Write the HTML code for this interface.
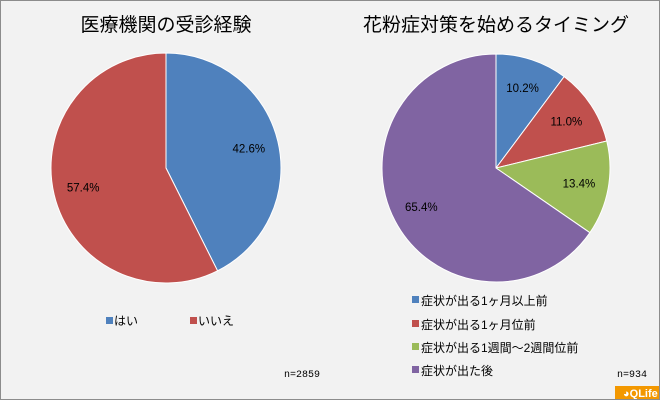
<!DOCTYPE html>
<html><head><meta charset="utf-8"><style>
body{margin:0;width:660px;height:400px;overflow:hidden;background:#fff}
#c{position:absolute;left:0;top:0;width:658px;height:398px;border:1px solid #8c8c8c;background:#f2f2f2;font-family:"Liberation Sans","Noto Sans CJK JP",sans-serif}
</style></head><body>
<div id="c">
<svg width="658" height="398" xmlns="http://www.w3.org/2000/svg" font-family="Liberation Sans, Noto Sans CJK JP, sans-serif">
<text x="165" y="30" font-size="19" text-anchor="middle" fill="#000">医療機関の受診経験</text>
<text x="495" y="30" font-size="19" text-anchor="middle" fill="#000">花粉症対策を始めるタイミング</text>
<g id="p1"></g><g id="p2"></g>
<g>
<rect x="105" y="316" width="7" height="7" fill="#4f81bd"/><text x="113" y="324" font-size="12">はい</text>
<rect x="189" y="316" width="7" height="7" fill="#c0504d"/><text x="197" y="324" font-size="12">いいえ</text>
</g>
<g>
<rect x="411" y="295" width="7" height="7" fill="#4f81bd"/><text x="420" y="304" font-size="12">症状が出る1ヶ月以上前</text>
<rect x="411" y="319" width="7" height="7" fill="#c0504d"/><text x="420" y="328" font-size="12">症状が出る1ヶ月位前</text>
<rect x="411" y="342" width="7" height="7" fill="#9bbb59"/><text x="420" y="351" font-size="12">症状が出る1週間〜2週間位前</text>
<rect x="411" y="365" width="7" height="7" fill="#8064a2"/><text x="420" y="374" font-size="12">症状が出た後</text>
</g>
<text x="283" y="376" font-size="10" font-family="Liberation Mono, monospace">n=2859</text>
<text x="616" y="376" font-size="10" font-family="Liberation Mono, monospace">n=934</text>
<g><rect x="614" y="385" width="44" height="13" fill="#f39800"/><text x="622" y="396" font-size="11" fill="#fff" font-weight="bold">◕QLife</text></g>
</svg></div>
<script>
const leftLabels=["はい","いいえ"];
const leftValues=[42.6,57.4];
const rightLabels=["症状が出る1ヶ月以上前","症状が出る1ヶ月位前","症状が出る1週間〜2週間位前","症状が出た後"];
const rightValues=[10.2,11.0,13.4,65.4];
const colors=["#4f81bd","#c0504d","#9bbb59","#8064a2"];
const NS="http://www.w3.org/2000/svg";
function pie(gid,vals,cx,cy,r,name){
  const g=document.getElementById(gid);
  const tot=vals.reduce((a,b)=>a+b,0);let a0=0;
  vals.forEach((v,i)=>{
    const a1=a0+v/tot*2*Math.PI;
    const x0=cx+r*Math.sin(a0),y0=cy-r*Math.cos(a0),x1=cx+r*Math.sin(a1),y1=cy-r*Math.cos(a1);
    const p=document.createElementNS(NS,"path");
    p.setAttribute("d",`M${cx},${cy}L${x0},${y0}A${r},${r} 0 ${a1-a0>Math.PI?1:0} 1 ${x1},${y1}Z`);
    p.setAttribute("fill",colors[i]);p.setAttribute("stroke","#fff");p.setAttribute("stroke-width","1");
    
    
    g.appendChild(p);
    const m=(a0+a1)/2,lr=r*0.74;
    const t=document.createElementNS(NS,"text");
    t.setAttribute("x",cx+lr*Math.sin(m));t.setAttribute("y",cy-lr*Math.cos(m)+4);
    t.setAttribute("text-anchor","middle");t.setAttribute("font-size","11.5");
    t.textContent=v.toFixed(1)+"%";
    
    
    g.appendChild(t);
    a0=a1;
  });
}
pie("p1",leftValues,165,167,115,"left-pie");
pie("p2",rightValues,495,167,114,"right-pie");
</script>
</body></html>
